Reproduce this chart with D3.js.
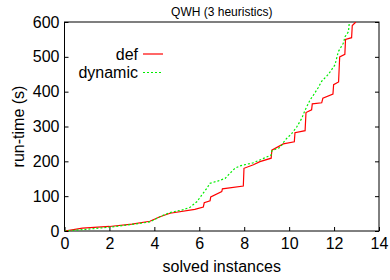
<!DOCTYPE html>
<html>
<head>
<meta charset="utf-8">
<script src="https://cdn.jsdelivr.net/npm/d3@7"></script>
<style>
  body { margin: 0; background: #fff; }
  text { font-family: "Liberation Sans", Arial, sans-serif; fill: #000; }
</style>
</head>
<body>
<svg id="chart" width="390" height="280"></svg>
<script>
// series (solved instances vs run-time)
var defX = [0, 0.8, 2.0, 3.0, 3.8, 4.25, 4.7, 5.8, 6.18, 6.22, 6.48, 6.51, 7.0, 7.03, 7.96, 7.99, 8.41, 8.7, 9.2, 9.23, 9.74, 10.23, 10.26, 10.71, 10.75, 11.0, 11.03, 11.45, 11.5, 11.95, 11.98, 12.2, 12.25, 12.48, 12.51, 12.78, 12.81, 12.97];
var defY = [0, 8, 13, 20, 28, 41, 51, 62, 69, 81, 87, 98, 113, 121, 129, 180, 190, 199, 209, 232, 250, 256, 282, 288, 340, 348, 365, 368, 381, 393, 420, 428, 500, 507, 550, 555, 590, 600];

var dynX = [0, 1.0, 2.0, 2.8, 3.8, 4.25, 4.7, 5.22, 5.59, 5.89, 6.11, 6.33, 6.48, 6.85, 7.15, 7.37, 7.59, 7.81, 8.41, 9.2, 9.23, 9.6, 9.82, 10.12, 10.34, 10.56, 10.71, 10.93, 11.08, 11.3, 11.45, 11.75, 12.04, 12.19, 12.41, 12.49, 12.64, 12.68];
var dynY = [0, 5, 11, 17, 26, 41, 53, 60, 68, 84, 103, 122, 137, 144, 151, 166, 180, 187, 196, 218, 230, 240, 261, 280, 299, 323, 347, 376, 390, 412, 430, 450, 477, 515, 539, 558, 572, 600];

var xTicks = [0, 2, 4, 6, 8, 10, 12, 14];
var yTicks = [0, 100, 200, 300, 400, 500, 600];

var svg = d3.select("#chart");
var plotL = 64.5, plotR = 379, plotT = 22, plotB = 231;

var x = d3.scaleLinear().domain([0, 14]).range([plotL, plotR]);
var y = d3.scaleLinear().domain([0, 600]).range([plotB, plotT]);

// clip so the curves stop at the frame
svg.append("clipPath").attr("id", "plotclip")
    .append("rect")
    .attr("x", plotL).attr("y", plotT)
    .attr("width", plotR - plotL).attr("height", plotB - plotT);

// axes, gnuplot style: ticks pointing in
var xAxis = svg.append("g")
    .attr("transform", "translate(0," + plotB + ")")
    .call(d3.axisBottom(x).tickValues(xTicks).tickSizeInner(-4).tickSizeOuter(0).tickPadding(7));
var yAxis = svg.append("g")
    .attr("transform", "translate(" + plotL + ",0)")
    .call(d3.axisLeft(y).tickValues(yTicks).tickSizeInner(-4).tickSizeOuter(0).tickPadding(5));
var yAxisR = svg.append("g")
    .attr("transform", "translate(" + plotR + ",0)")
    .call(d3.axisRight(y).tickValues(yTicks).tickSizeInner(-4).tickSizeOuter(0).tickFormat(""));

[xAxis, yAxis, yAxisR].forEach(function(g){
    g.select(".domain").remove();
    g.selectAll("line").attr("stroke", "#000");
    g.selectAll("text").style("font-size", "16px").style("font-family", "Liberation Sans, Arial, sans-serif");
});

// frame
svg.append("rect")
    .attr("x", plotL).attr("y", plotT)
    .attr("width", plotR - plotL).attr("height", plotB - plotT)
    .attr("fill", "none").attr("stroke", "#000").attr("stroke-width", 1);

var line = d3.line()
    .x(function(d){ return x(d[0]); })
    .y(function(d){ return y(d[1]); });

var defPts = defX.map(function(v, i){ return [v, defY[i]]; });
var dynPts = dynX.map(function(v, i){ return [v, dynY[i]]; });

var plot = svg.append("g").attr("clip-path", "url(#plotclip)");

plot.append("path").datum(defPts)
    .attr("d", line)
    .attr("fill", "none").attr("stroke", "#ff0000").attr("stroke-width", 1.2);

plot.append("path").datum(dynPts)
    .attr("d", line)
    .attr("fill", "none").attr("stroke", "#00ee00").attr("stroke-width", 1.2)
    .attr("stroke-dasharray", "2,2");

// legend
var legend = [["def", "#ff0000", null], ["dynamic", "#00ee00", "2,2"]];
legend.forEach(function(l, i){
    var ly = 54 + i * 18.5;
    svg.append("text")
        .attr("x", 138).attr("y", ly + 5.5)
        .attr("text-anchor", "end")
        .style("font-size", "16px")
        .text(l[0]);
    svg.append("line")
        .attr("x1", 143).attr("x2", 163)
        .attr("y1", ly).attr("y2", ly)
        .attr("stroke", l[1]).attr("stroke-width", 1.2)
        .attr("stroke-dasharray", l[2]);
});

// titles
svg.append("text")
    .attr("x", (plotL + plotR) / 2).attr("y", 16)
    .attr("text-anchor", "middle")
    .style("font-size", "12px")
    .text("QWH (3 heuristics)");

svg.append("text")
    .attr("x", (plotL + plotR) / 2).attr("y", 272)
    .attr("text-anchor", "middle")
    .style("font-size", "16px")
    .text("solved instances");

svg.append("text")
    .attr("transform", "translate(24," + ((plotT + plotB) / 2) + ") rotate(-90)")
    .attr("text-anchor", "middle")
    .style("font-size", "16px")
    .text("run-time (s)");
</script>
</body>
</html>
